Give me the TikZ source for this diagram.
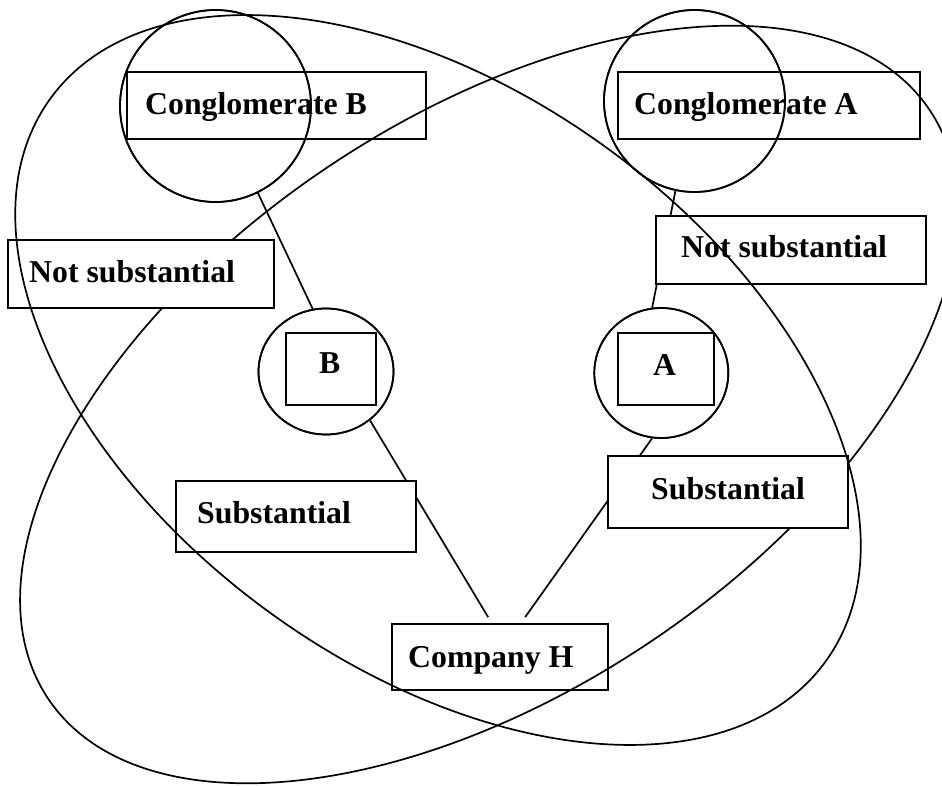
\documentclass[tikz,border=0pt]{standalone}
\usepackage{fontspec}
\setmainfont{Liberation Serif}
\usetikzlibrary{shapes.geometric,calc}
\tikzset{
  lw/.style={line width=1.7pt},
  boxw/.style={draw, lw, rectangle, inner sep=0pt, fill=white},
  boxo/.style={draw, lw, rectangle, inner sep=0pt},
  ring/.style={draw, lw, ellipse, inner sep=0pt},
  txt/.style={anchor=base west, inner sep=0pt, font=\fontsize{31.8}{38}\selectfont\bfseries},
  conn/.style={lw}
}
\begin{document}
\begin{tikzpicture}[x=1pt,y=1pt]
\useasboundingbox (0,0) rectangle (942,-786);
\clip (0,0) rectangle (942,-786);
% ellipse behind the boxes
\draw[lw, rotate around={33.7:(489,-404.5)}] (489,-404.5) ellipse [x radius=530, y radius=287];
% circles as nodes (drawn again on top later)
\node[ring, minimum width=191pt, minimum height=192pt] (cB) at (215.5,-106) {};
\node[ring, minimum width=181pt, minimum height=182pt] (cA) at (694.5,-101) {};
\node[ring, minimum width=135pt, minimum height=126pt] (ccB) at (326,-371.5) {};
\node[ring, minimum width=134pt, minimum height=130pt] (ccA) at (661.3,-373) {};
% Company H
\node[boxo, minimum width=216pt, minimum height=66pt] (H) at (500,-657) {};
\coordinate (hB) at ($(H.north west)+(97,6)$);
\coordinate (hA) at ($(H.north west)+(134,6)$);
% connectors
\draw[conn] (cB.-64.2) -- (ccB.102.6);
\draw[conn] (cA.-102.7) -- (ccA.98.1);
\draw[conn] (ccB.-48.6) -- (hB);
\draw[conn] (ccA.-98) -- (hA);
% white boxes
\node[boxw, minimum width=266pt, minimum height=68pt] (nsL) at (141,-274) {};
\node[boxw, minimum width=270pt, minimum height=68pt] (nsR) at (791,-250) {};
\node[boxw, minimum width=240pt, minimum height=71pt] (sL) at (296,-516.5) {};
\node[boxw, minimum width=240pt, minimum height=72pt] (sR) at (728,-492) {};
% open boxes
\node[boxo, minimum width=299pt, minimum height=67pt] (bB) at (276.5,-105.5) {};
\node[boxo, minimum width=302pt, minimum height=67pt] (bA) at (769,-105.5) {};
\node[boxo, minimum width=90pt, minimum height=72pt] (qB) at (331,-369) {};
\node[boxo, minimum width=96pt, minimum height=72pt] (qA) at (666,-369) {};
% texts
\node[txt] (tbB) at (145,-115) {Conglomerate B};
\node[txt] (tbA) at (634,-115) {Conglomerate A};
\node[txt] (tnsL) at (29,-283) {Not substantial};
\node[txt] (tnsR) at (681,-258) {Not substantial};
\node[txt] (tsL) at (197,-523) {Substantial};
\node[txt] (tsR) at (651,-499) {Substantial};
\node[txt] (tH) at (408,-667) {Company H};
\node[txt] (tqB) at (319,-373) {B};
\node[txt] (tqA) at (653,-375) {A};
% ellipse on top
\draw[lw, rotate around={-36:(438,-380)}] (438,-380) ellipse [x radius=479, y radius=287];
% circles on top
\draw[lw] (cB.center) ellipse [x radius=95.5, y radius=96];
\draw[lw] (cA.center) ellipse [x radius=90.5, y radius=91];
\draw[lw] (ccB.center) ellipse [x radius=67.5, y radius=63];
\draw[lw] (ccA.center) ellipse [x radius=67, y radius=65];
\end{tikzpicture}
\end{document}
